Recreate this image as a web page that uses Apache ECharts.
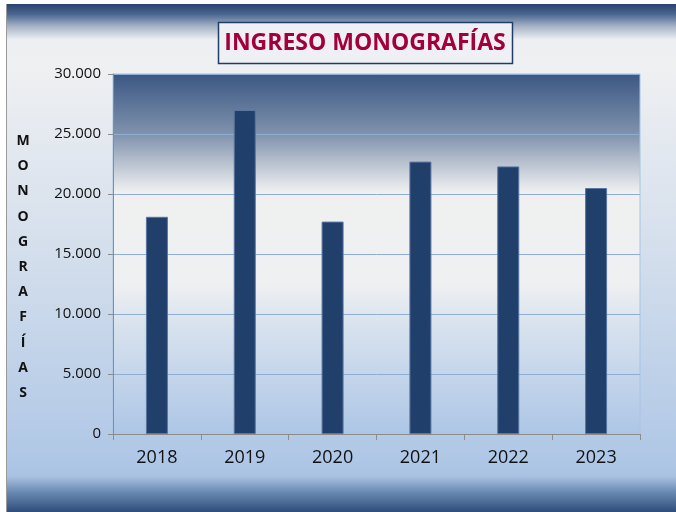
<!DOCTYPE html>
<html>
<head>
<meta charset="utf-8">
<script src="https://cdn.jsdelivr.net/npm/echarts@6/dist/echarts.min.js"></script>
<style>
html,body{margin:0;padding:0;background:#ffffff;}
#chart{width:676px;height:512px;}
</style>
</head>
<body>
<div id="chart"></div>
<script>
var years = ['2018', '2019', '2020', '2021', '2022', '2023'];
var ingresos = [18100, 27000, 17700, 22700, 22300, 20500];
var yTicks = [0, 5000, 10000, 15000, 20000, 25000, 30000];
var titleText = 'INGRESO MONOGRAFÍAS';
var yName = 'MONOGRAFÍAS';

function fmt(v) {
  if (v === 0) return '0';
  var s = String(Math.round(v));
  return s.replace(/\B(?=(\d{3})+(?!\d))/g, '.');
}

var chart = echarts.init(document.getElementById('chart'), null, {renderer: 'canvas'});
var option = {
  animation: false,
  backgroundColor: 'transparent',
  graphic: [
    {
      type: 'rect', z: -100,
      shape: {x: 6, y: 4, width: 670, height: 508},
      style: {
        fill: new echarts.graphic.LinearGradient(0, 0, 0, 1, [
          {offset: 0, color: '#28446e'},
          {offset: 0.02, color: '#4a6690'},
          {offset: 0.045, color: '#a9b6c8'},
          {offset: 0.07, color: '#eceef1'},
          {offset: 0.12, color: '#eff0f2'},
          {offset: 0.5, color: '#d3deec'},
          {offset: 0.9, color: '#afc7e6'},
          {offset: 0.93, color: '#a9c2e2'},
          {offset: 0.96, color: '#6b8bb4'},
          {offset: 1, color: '#2f4d7a'}
        ])
      }
    },
    {
      type: 'line', z: -90,
      shape: {x1: 6.5, y1: 4, x2: 6.5, y2: 512},
      style: {stroke: '#9a9a9a', lineWidth: 1}
    },
    {
      type: 'rect', z: 10,
      shape: {x: 218.5, y: 22.5, width: 294, height: 41},
      style: {fill: '#eef0f4', stroke: '#203c68', lineWidth: 1.5}
    },
    {
      type: 'text', z: 11,
      x: 365, y: 43,
      style: {
        text: titleText,
        fill: '#a3003b',
        font: 'bold 23px "Open Sans", sans-serif',
        align: 'center',
        verticalAlign: 'middle'
      }
    },
    {
      type: 'text', z: 11,
      x: 23, y: 267,
      style: {
        text: yName.split('').join('\n'),
        fill: '#111111',
        font: 'bold 14px "Open Sans", sans-serif',
        align: 'center',
        verticalAlign: 'middle',
        lineHeight: 25.2
      }
    }
  ],
  grid: {
    left: 113, right: 36, top: 74, bottom: 78,
    show: true,
    borderColor: '#a8c4e4',
    borderWidth: 1,
    backgroundColor: new echarts.graphic.LinearGradient(0, 0, 0, 1, [
      {offset: 0, color: '#3a5783'},
      {offset: 0.17, color: '#8193ad'},
      {offset: 0.3, color: '#dde0e6'},
      {offset: 0.33, color: '#f0f0f0'},
      {offset: 0.58, color: '#eff0f2'},
      {offset: 0.7, color: '#d8e2ee'},
      {offset: 1, color: '#adc6e6'}
    ])
  },
  xAxis: {
    type: 'category',
    data: years,
    axisLine: {show: true, lineStyle: {color: '#8c8c8c', width: 1}},
    axisTick: {show: true, alignWithLabel: false, length: 6, lineStyle: {color: '#8c8c8c'}},
    axisLabel: {color: '#111111', fontSize: 18, fontFamily: 'Open Sans', margin: 15},
    splitLine: {show: false}
  },
  yAxis: {
    type: 'value',
    min: yTicks[0],
    max: yTicks[yTicks.length - 1],
    interval: yTicks[1] - yTicks[0],
    axisLine: {show: true, lineStyle: {color: '#8c8c8c', width: 1}},
    axisTick: {show: true, length: 5, lineStyle: {color: '#8c8c8c'}},
    axisLabel: {color: '#111111', fontSize: 15, fontFamily: 'Open Sans', margin: 12, formatter: fmt},
    splitLine: {show: true, lineStyle: {color: '#8eaed6', width: 1}}
  },
  series: [{
    type: 'bar',
    data: ingresos,
    barWidth: 22,
    itemStyle: {color: '#213f6b', borderColor: '#5876a0', borderWidth: 1}
  }]
};
chart.setOption(option);
</script>
</body>
</html>
